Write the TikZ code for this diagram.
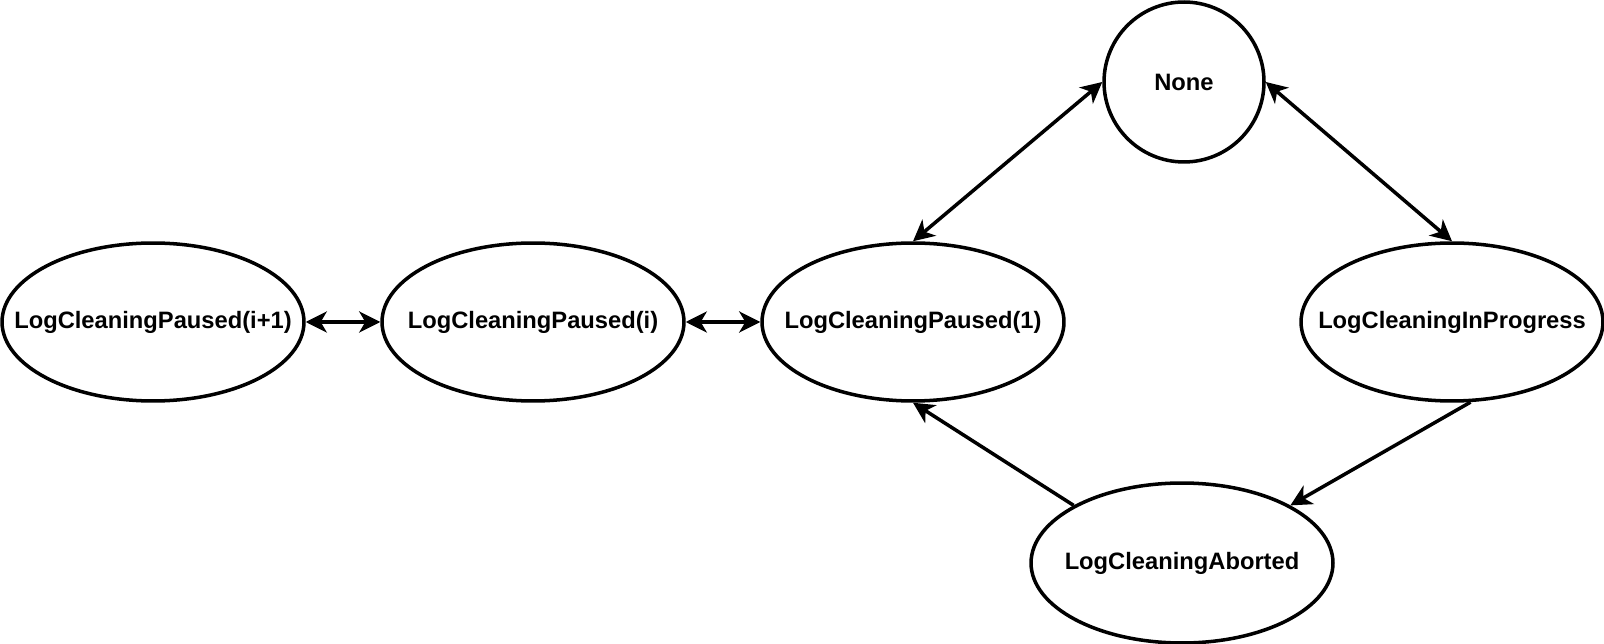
\documentclass[tikz,border=0pt]{standalone}
\usepackage{fontspec}
\setmainfont{Liberation Sans}
\usetikzlibrary{arrows.meta,shapes.geometric}

\tikzset{
	every label/.style={font=\fontsize{13.5}{16}\selectfont\bfseries},
	state/.style={draw,ellipse,line width=2pt,inner sep=0pt,minimum width=6.04cm,minimum height=3.16cm,label=center:{#1}},
	rest/.style={draw,circle,line width=2pt,inner sep=0pt,minimum size=3.2cm,font=\fontsize{13.5}{16}\selectfont\bfseries},
	trans/.style={line width=2pt,-{Stealth[length=12pt,width=12pt,inset=3.5pt]}},
	both/.style={trans,{Stealth[length=12pt,width=12pt,inset=3.5pt]}-{Stealth[length=12pt,width=12pt,inset=3.5pt]}}
}

\begin{document}
\begin{tikzpicture}[x=0.02cm,y=-0.02cm]
	\useasboundingbox (0,0) rectangle (1604,644);
	
	%STATES
	\node[rest] (none) at (1184,82) {None};
	\node[state=LogCleaningPaused(i+1)] (pi1) at (153,322) {};
	\node[state=LogCleaningPaused(i)] (pi) at (533,322) {};
	\node[state=LogCleaningPaused(1)] (p1) at (913,322) {};
	\node[state=LogCleaningInProgress] (ip) at (1452,322) {};
	\node[state=LogCleaningAborted,minimum height=3.2cm] (ab) at (1182,563) {};
	
	%TRANSITIONS
	\draw[both] (pi1.east) -- (pi.west);
	\draw[both] (pi.east) -- (p1.west);
	\draw[both] (p1.north) -- (none.west);
	\draw[both] (none.east) -- (ip.north);
	\draw[trans] (ip.-77) -- (ab.28);
	\draw[trans] (ab.152) -- (p1.south);
\end{tikzpicture}
\end{document}
